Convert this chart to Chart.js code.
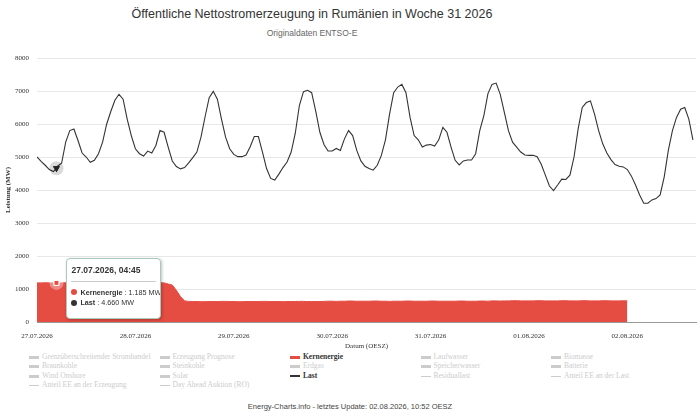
<!DOCTYPE html>
<html>
<head>
<meta charset="utf-8">
<script src="https://cdn.jsdelivr.net/npm/chart.js@4.4.1/dist/chart.umd.min.js"></script>
<style>
  html, body { margin: 0; padding: 0; background: #fff; }
  #wrap { position: relative; width: 700px; height: 416px; overflow: hidden; font-family: "Liberation Sans", Arial, sans-serif; }
  #title { position: absolute; top: 7px; left: 0; width: 624px; text-align: center; font-size: 12.5px; color: #333; }
  #subtitle { position: absolute; top: 28px; left: 0; width: 624px; text-align: center; font-size: 8.5px; color: #666; }
  #box { position: absolute; top: 0; left: 0; width: 700px; height: 352px; }
  #legend { position: absolute; top: 352px; left: 29px; display: grid; grid-template-columns: repeat(5, 130.5px);
            font-family: "Liberation Serif", "Times New Roman", serif; font-size: 7.5px; line-height: 9.4px; }
  #legend .item { white-space: nowrap; color: #cccccc; }
  #legend .item.on { color: #333; font-weight: bold; }
  #legend .sym { display: inline-block; width: 10px; height: 3px; margin-right: 3px; vertical-align: middle; background: #cccccc; }
  #legend .sym.thin { height: 1px; }
  #footer { position: absolute; top: 402px; left: 0; width: 700px; text-align: center; font-size: 7.5px; color: #444; }
  #tip { position: absolute; box-sizing: border-box; width: 95px; height: 61px; background: #fff; border: 1px solid #a9cbbd; border-radius: 4px;
         box-shadow: 1px 1px 3px rgba(0,0,0,0.25); padding: 5px 4px 4px 4px; font-size: 7.2px; color: #333; pointer-events: none; overflow: hidden; }
  #tip .t { font-weight: bold; font-size: 8.5px; padding: 1px 0 6px 0; border-bottom: 1px solid #ccc; margin-bottom: 6px; }
  #tip .r { line-height: 10.5px; white-space: nowrap; }
  #tip .d { display: inline-block; width: 6px; height: 6px; border-radius: 50%; margin-right: 3px; vertical-align: -0.5px; }
</style>
</head>
<body>
<div id="wrap">
  <div id="title">Öffentliche Nettostromerzeugung in Rumänien in Woche 31 2026</div>
  <div id="subtitle">Originaldaten ENTSO-E</div>
  <div id="box"><canvas id="chart"></canvas></div>
  <div id="legend"></div>
  <div id="footer">Energy-Charts.info - letztes Update: 02.08.2026, 10:52 OESZ</div>
  <div id="tip"></div>
</div>
<script>
// hours since 27.07.2026 00:00 (hourly, plus the 04:45 sample shown in the tooltip)
const hours = [];
for (let h = 0; h <= 160; h++) { hours.push(h); if (h === 4) hours.push(4.75); }

const dayHours = [0, 24, 48, 72, 96, 120, 144];
const dayLabels = ["27.07.2026", "28.07.2026", "29.07.2026", "30.07.2026", "31.07.2026", "01.08.2026", "02.08.2026"];

// Last (MW)
const last = [
  5000, 4870, 4750, 4620, 4560, 4660,
  4720, 4810, 5450, 5800, 5850, 5500, 5120, 5000, 4840, 4900,
  5100, 5450, 6000, 6380, 6720, 6900, 6750, 6150, 5650, 5250,
  5100, 5030, 5180, 5120, 5350, 5800, 5750, 5300, 4880, 4710,
  4640, 4680, 4820, 4980, 5150, 5600, 6220, 6800, 6990, 6750,
  6150, 5600, 5250, 5080, 5010, 5010, 5060, 5310, 5620, 5620,
  5150, 4650, 4350, 4300, 4480, 4680, 4850, 5150, 5720, 6560,
  6980, 7020, 6950, 6380, 5750, 5380, 5180, 5180, 5260, 5200,
  5550, 5800, 5650, 5200, 4880, 4720, 4650, 4600, 4750, 5050,
  5520, 6300, 6950, 7120, 7200, 6950, 6200, 5650, 5520, 5300,
  5360, 5380, 5330, 5520, 5900, 5750, 5300, 4900, 4760, 4880,
  4910, 4910, 5100, 5800, 6250, 6920, 7200, 7240, 6900, 6350,
  5800, 5450, 5300, 5150, 5060, 5050, 5050, 5010, 4780, 4450,
  4120, 3980, 4150, 4330, 4320, 4450, 5000, 5850, 6500, 6650,
  6700, 6300, 5800, 5400, 5120, 4920, 4770, 4720, 4700, 4620,
  4420, 4150, 3850, 3600, 3600, 3700, 3740, 3850, 4400, 5200,
  5800, 6200, 6450, 6500, 6150, 5520
];

// Kernenergie (MW)
const kern = [
  1185, 1185, 1190, 1185, 1185, 1185,
  1185, 1185, 1190, 1190, 1190, 1185, 1185, 1185, 1185, 1180,
  1180, 1185, 1185, 1185, 1190, 1190, 1190, 1185, 1185, 1185,
  1185, 1180, 1180, 1185, 1185, 1190, 1185,
  1150, 1120, 960, 770, 640,
  625, 620, 620, 615, 615, 620, 620, 620, 625, 625,
  620, 620, 615, 615, 620, 620, 620, 620, 625, 625,
  620, 620, 620, 615, 620, 620, 620, 625, 625, 620,
  620, 620, 620, 625,
  630, 630, 625, 630, 630, 635, 635, 630, 630, 630,
  630, 635, 635, 630, 630, 625, 630, 630, 630, 635,
  635, 630, 630, 630, 630, 635, 635, 630, 630, 630,
  630, 630, 635, 635, 630, 630, 630, 635, 635, 630,
  640, 640, 635, 640, 640, 645, 645, 640, 640, 640,
  640, 645, 645, 640, 640, 640, 640, 645, 645, 640,
  640, 640, 645, 645, 640, 640, 640, 645, 645, 640,
  640, 640, 645, 640,
  null, null, null, null, null, null, null, null,
  null, null, null, null, null, null, null, null
];

const legendNames = [
  "Grenzüberschreitender Stromhandel", "Erzeugung Prognose", "Kernenergie", "Laufwasser", "Biomasse",
  "Braunkohle", "Steinkohle", "Erdgas", "Speicherwasser", "Batterie",
  "Wind Onshore", "Solar", "Last", "Residuallast", "Anteil EE an der Last",
  "Anteil EE an der Erzeugung", "Day Ahead Auktion (RO)"
];
const legendThin = ["Residuallast", "Anteil EE an der Last", "Anteil EE an der Erzeugung", "Day Ahead Auktion (RO)"];

const RED = "rgb(229,76,66)";
const DARK = "#333333";
const SERIF = "'Liberation Serif', 'Times New Roman', serif";

// legend
const legendEl = document.getElementById("legend");
legendNames.forEach(name => {
  const it = document.createElement("div");
  it.className = "item";
  const sym = document.createElement("span");
  sym.className = "sym" + (legendThin.includes(name) ? " thin" : "");
  if (name === "Kernenergie") { it.classList.add("on"); sym.style.background = RED; }
  if (name === "Last") { it.classList.add("on"); sym.style.background = DARK; sym.style.height = "2px"; }
  it.appendChild(sym);
  it.appendChild(document.createTextNode(name));
  legendEl.appendChild(it);
});

function fmt(n) { return String(Math.round(n)).replace(/\B(?=(\d{3})+(?!\d))/g, "."); }
function timeLabel(h) {
  const d = Math.floor(h / 24);
  const mins = Math.round((h - d * 24) * 60);
  const hh = String(Math.floor(mins / 60)).padStart(2, "0");
  const mm = String(mins % 60).padStart(2, "0");
  return dayLabels[d] + ", " + hh + ":" + mm;
}

const tipEl = document.getElementById("tip");
function externalTip(ctx) {
  const t = ctx.tooltip;
  if (!t || t.opacity === 0 || !t.dataPoints || !t.dataPoints.length) { tipEl.style.display = "none"; return; }
  const pts = t.dataPoints.slice().sort((a, b) => a.datasetIndex - b.datasetIndex);
  let html = '<div class="t">' + timeLabel(pts[0].parsed.x) + "</div>";
  pts.forEach(p => {
    html += '<div class="r"><span class="d" style="background:' + p.dataset.borderColor + '"></span><b>' +
      p.dataset.label + "</b> : " + fmt(p.parsed.y) + " MW</div>";
  });
  tipEl.innerHTML = html;
  tipEl.style.display = "block";
  tipEl.style.left = (t.caretX + 10) + "px";
  tipEl.style.top = (pts[0].element.y - 25) + "px";
}

// halo behind the hovered markers
const haloPlugin = {
  id: "halo",
  afterDatasetsDraw(chart) {
    const ctx = chart.ctx;
    chart.getActiveElements().forEach(a => {
      const el = a.element;
      ctx.save();
      ctx.beginPath();
      ctx.arc(el.x, el.y, 7, 0, Math.PI * 2);
      ctx.fillStyle = a.datasetIndex === 0 ? "rgba(255,255,255,0.35)" : "rgba(0,0,0,0.15)";
      ctx.fill();
      ctx.restore();
      el.draw(ctx, chart.chartArea);
    });
  }
};

const chart = new Chart(document.getElementById("chart"), {
  type: "line",
  data: {
    datasets: [
      {
        label: "Kernenergie",
        data: hours.map((h, i) => ({ x: h, y: kern[i] })),
        borderColor: RED,
        backgroundColor: RED,
        borderWidth: 1,
        fill: "origin",
        pointRadius: 0,
        pointHoverRadius: 3.5,
        pointStyle: "rect",
        pointHoverBackgroundColor: RED,
        pointHoverBorderColor: "#ffffff",
        pointHoverBorderWidth: 1,
        spanGaps: false,
        order: 1
      },
      {
        label: "Last",
        data: hours.map((h, i) => ({ x: h, y: last[i] })),
        borderColor: DARK,
        backgroundColor: DARK,
        borderWidth: 1.1,
        fill: false,
        pointRadius: 0,
        pointHoverRadius: 4,
        pointStyle: "triangle",
        rotation: 180,
        pointHoverBackgroundColor: "#222",
        pointHoverBorderColor: "#222",
        pointHoverBorderWidth: 0,
        order: 0
      }
    ]
  },
  options: {
    responsive: true,
    maintainAspectRatio: false,
    animation: false,
    events: [],
    layout: { padding: { top: 58, left: 4, right: 4, bottom: 0 } },
    interaction: { mode: "index", intersect: false },
    plugins: {
      legend: { display: false },
      tooltip: { enabled: false, external: externalTip }
    },
    scales: {
      x: {
        type: "linear",
        min: 0,
        max: 160.75,
        afterBuildTicks(scale) { scale.ticks = dayHours.map(v => ({ value: v })); },
        afterFit(scale) { scale.height = 30; },
        grid: { display: false, drawTicks: false },
        border: { display: true, color: "#999999", width: 1 },
        ticks: {
          autoSkip: false, maxRotation: 0, padding: 10, color: "#333",
          font: { family: SERIF, size: 7 },
          callback: (v, i) => dayLabels[i]
        },
        title: { display: true, text: "Datum (OESZ)", color: "#333", font: { family: SERIF, size: 7 }, padding: { top: 0, bottom: 2 } }
      },
      y: {
        min: 0,
        max: 8000,
        afterFit(scale) { scale.width = 33; },
        ticks: { stepSize: 1000, color: "#333", padding: 8, font: { family: SERIF, size: 7 }, callback: v => String(v) },
        grid: { color: "#e8e8e8", lineWidth: 1, drawTicks: false },
        border: { display: false },
        title: { display: true, text: "Leistung (MW)", color: "#333", font: { family: SERIF, size: 7, weight: "bold" }, padding: 0 }
      }
    }
  },
  plugins: [haloPlugin]
});

const act = [{ datasetIndex: 0, index: 5 }, { datasetIndex: 1, index: 5 }];
chart.setActiveElements(act);
chart.tooltip.setActiveElements(act, { x: 0, y: 0 });
chart.update();
</script>
</body>
</html>
